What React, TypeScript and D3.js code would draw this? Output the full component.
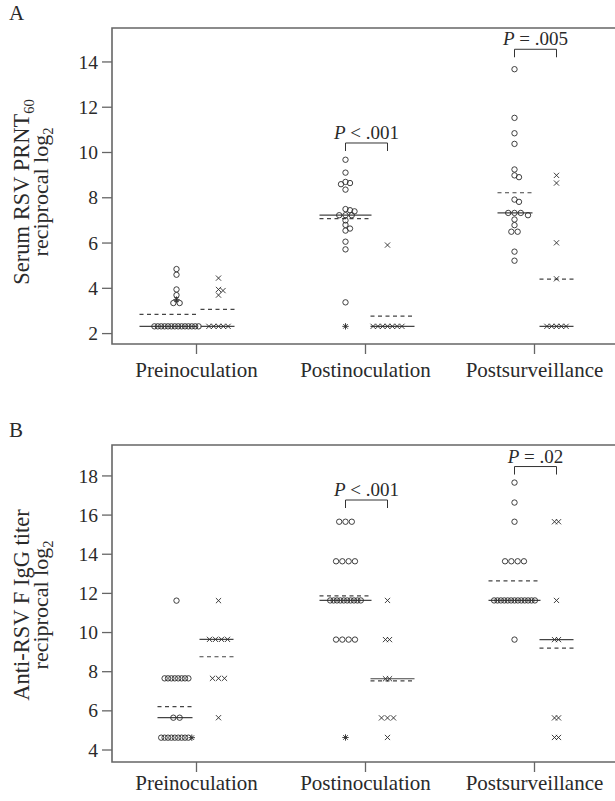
import React from "react";
import * as d3 from "d3";

const categories = ["Preinoculation", "Postinoculation", "Postsurveillance"];

// Panel A: serum RSV PRNT60, reciprocal log2 (circles / crosses / asterisks per time point)
const prntCircles = [
  [4.85, 4.6, 3.95, 3.7, 3.35, 3.35, 2.32, 2.32, 2.32, 2.32, 2.32, 2.32, 2.32, 2.32, 2.32, 2.32, 2.32, 2.32, 2.32, 2.32],
  [9.68, 9.11, 8.7, 8.65, 8.6, 8.36, 7.5, 7.45, 7.4, 7.23, 7.23, 7.23, 7.0, 6.8, 6.64, 6.55, 6.06, 5.72, 3.38],
  [13.68, 11.53, 10.85, 10.38, 9.25, 8.99, 8.91, 7.92, 7.82, 7.33, 7.33, 7.33, 7.23, 7.04, 6.79, 6.5, 6.5, 5.62, 5.22],
];
const prntStars = [[3.5], [2.32], []];
const prntCrosses = [
  [4.45, 3.95, 3.9, 3.7, 2.32, 2.32, 2.32, 2.32, 2.32],
  [5.91, 2.32, 2.32, 2.32, 2.32, 2.32, 2.32, 2.32],
  [8.99, 8.65, 6.01, 4.42, 2.32, 2.32, 2.32, 2.32, 2.32],
];
const prntTicks = [2, 4, 6, 8, 10, 12, 14];
const prntP = ["", "< .001", "= .005"];
const prntBracket = [NaN, 10.42, 14.56];

// Panel B: anti-RSV F IgG titer, reciprocal log2
const iggCircles = [
  [11.63, 7.66, 7.66, 7.66, 7.66, 7.66, 7.66, 7.66, 7.66, 5.65, 5.65, 4.63, 4.63, 4.63, 4.63, 4.63, 4.63, 4.63, 4.63, 4.63],
  [15.66, 15.66, 15.66, 13.64, 13.64, 13.64, 13.64, 11.64, 11.64, 11.64, 11.64, 11.64, 11.64, 11.64, 11.64, 11.64, 11.64, 9.64, 9.64, 9.64, 9.64],
  [17.66, 16.64, 15.66, 13.64, 13.64, 13.64, 13.64, 11.64, 11.64, 11.64, 11.64, 11.64, 11.64, 11.64, 11.64, 11.64, 11.64, 11.64, 11.64, 11.64, 9.64],
];
const iggStars = [[4.63], [4.64], []];
const iggCrosses = [
  [11.63, 9.65, 9.65, 9.65, 9.65, 7.66, 7.66, 7.66, 5.65],
  [11.64, 9.64, 9.64, 7.64, 7.64, 5.64, 5.64, 5.64, 4.64],
  [15.66, 15.66, 11.64, 9.64, 9.64, 5.64, 5.64, 4.64, 4.64],
];
const iggTicks = [4, 6, 8, 10, 12, 14, 16, 18];
const iggP = ["", "< .001", "= .02"];
const iggBracket = [NaN, 16.77, 18.48];

// median / mean line extents (px, relative to column centre): [circles, crosses] per category
const extA = [[[-37, 21], [-18, 16]], [[-26, 26], [-17, 27]], [[-17, 18], [-17, 17]]];
const extB = [[[-19, 16], [-19, 15]], [[-26, 26], [-17, 27]], [[-26, 26], [-17, 17]]];

const FONT = "'Liberation Serif', 'DejaVu Serif', serif";
const INK = "#2a2a2a";
const AXIS = "#666";

type Kind = "o" | "x" | "*";
type Pt = { v: number; kind: Kind; dx: number; py: number };

const rowStep = (kind: Kind, n: number) =>
  kind === "x" ? (n === 2 ? 4 : n <= 4 ? 6 : 4.8) : n <= 4 ? 6.3 : 3.4;

// rows for tied values, then a small beeswarm for the rest
function swarm(vals: { v: number; kind: Kind }[], y: (v: number) => number): Pt[] {
  const out: Pt[] = [];
  const groups = d3.groups(vals, (d) => d.v);
  for (const [v, g] of groups) {
    if (g.length < 2) continue;
    const sorted = [...g].sort((a, b) => (a.kind === "*" ? 1 : 0) - (b.kind === "*" ? 1 : 0));
    const st = rowStep(sorted[0].kind, g.length);
    sorted.forEach((p, i) => out.push({ ...p, dx: (i - (g.length - 1) / 2) * st, py: y(v) }));
  }
  const singles = groups.filter(([, g]) => g.length === 1).map(([, g]) => g[0]).sort((a, b) => b.v - a.v);
  const s = 4.5, D = 4.5;
  for (const p of singles) {
    const py = y(p.v);
    for (let k = 0; k < 60; k++) {
      const dx = k === 0 ? 0 : (k % 2 ? 1 : -1) * Math.ceil(k / 2) * s;
      if (out.every((q) => (q.dx - dx) ** 2 + (q.py - py) ** 2 >= D * D - 0.05)) {
        out.push({ ...p, dx, py });
        break;
      }
    }
  }
  return out;
}

const Mark = ({ p, cx }: { p: Pt; cx: number }) => {
  const x = cx + p.dx, y = p.py;
  if (p.kind === "o") return <circle cx={x} cy={y} r={2.7} fill="none" stroke={INK} strokeWidth={0.9} />;
  const h = 2.6;
  if (p.kind === "x")
    return <path d={`M${x - h},${y - h}L${x + h},${y + h}M${x - h},${y + h}L${x + h},${y - h}`} stroke={INK} strokeWidth={0.9} />;
  const a = 3.2, b = 2.3;
  return (
    <path
      d={`M${x},${y - a}L${x},${y + a}M${x - a},${y}L${x + a},${y}M${x - b},${y - b}L${x + b},${y + b}M${x - b},${y + b}L${x + b},${y - b}`}
      stroke={INK}
      strokeWidth={0.9}
    />
  );
};

type PanelProps = {
  letter: string;
  top: number;
  bottom: number;
  domain: [number, number];
  ticks: number[];
  circles: number[][];
  stars: number[][];
  crosses: number[][];
  pText: string[];
  pLevel: number[];
  ext: number[][][];
  title: string;
  sub: string | null;
  titleY: number;
  labelY: number;
};

const x = d3.scaleBand<string>().domain(categories).range([112, 619]);
const LEFT = 112;

function Panel(props: PanelProps) {
  const { letter, top, bottom, domain, ticks, circles, stars, crosses, pText, pLevel, ext, title, sub, titleY, labelY } = props;
  const y = d3.scaleLinear().domain(domain).range([bottom, top]);
  return (
    <g fontFamily={FONT} fill={INK}>
      <text x={9} y={top - 8} fontSize={21}>{letter}</text>
      {/* y title */}
      <text transform={`translate(29,${titleY}) rotate(-90)`} textAnchor="middle" fontSize={22.5}>
        {title}
        {sub ? <tspan fontSize={14.5} dy={5}>{sub}</tspan> : null}
      </text>
      <text transform={`translate(48,${titleY}) rotate(-90)`} textAnchor="middle" fontSize={22}>
        reciprocal log<tspan fontSize={14.5} dy={5}>2</tspan>
      </text>
      {/* frame */}
      <path d={`M615,${top}H${LEFT}V${bottom}H615`} fill="none" stroke={AXIS} strokeWidth={1.6} />
      {ticks.map((t) => (
        <g key={t}>
          <line x1={LEFT - 10} x2={LEFT} y1={y(t)} y2={y(t)} stroke={AXIS} strokeWidth={1.3} />
          <text x={LEFT - 14} y={y(t)} dy="0.34em" textAnchor="end" fontSize={19.5}>{t}</text>
        </g>
      ))}
      {categories.map((c, i) => {
        const cc = (x(c) as number) + x.bandwidth() / 2;
        const cols = [
          { cx: cc - 20, vals: [...circles[i].map((v) => ({ v, kind: "o" as Kind })), ...stars[i].map((v) => ({ v, kind: "*" as Kind }))] },
          { cx: cc + 22, vals: crosses[i].map((v) => ({ v, kind: "x" as Kind })) },
        ];
        return (
          <g key={c}>
            <line x1={cc} x2={cc} y1={bottom} y2={bottom + 10} stroke={AXIS} strokeWidth={1.3} />
            <text x={cc} y={labelY} textAnchor="middle" fontSize={21}>{c}</text>
            {cols.map((col, j) => {
              const vs = col.vals.map((d) => d.v);
              const med = d3.median(vs) as number;
              const mean = d3.mean(vs) as number;
              const [l, r] = ext[i][j];
              return (
                <g key={j}>
                  <line x1={col.cx + l} x2={col.cx + r} y1={y(med)} y2={y(med)} stroke="#444" strokeWidth={1.2} />
                  <line x1={col.cx + l} x2={col.cx + r} y1={y(mean)} y2={y(mean)} stroke="#444" strokeWidth={1.2} strokeDasharray="4,3.5" />
                  {swarm(col.vals, y).map((p, k) => (
                    <Mark key={k} p={p} cx={col.cx} />
                  ))}
                </g>
              );
            })}
            {pText[i] ? (
              <g>
                <path
                  d={`M${cc - 20},${y(pLevel[i]) + 8}V${y(pLevel[i])}H${cc + 22}V${y(pLevel[i]) + 8}`}
                  fill="none"
                  stroke="#333"
                  strokeWidth={1}
                />
                <text x={cc + 1} y={y(pLevel[i]) - 4} textAnchor="middle" fontSize={19}>
                  <tspan fontStyle="italic">P</tspan>
                  {" " + pText[i]}
                </text>
              </g>
            ) : null}
          </g>
        );
      })}
    </g>
  );
}

export default function App() {
  return (
    <svg width={615} height={801} style={{ position: "absolute", left: 0, top: 0, background: "#fff" }}>
      <rect width={615} height={801} fill="#fff" />
      <Panel
        letter="A"
        top={28}
        bottom={344}
        domain={[1.54, 15.5]}
        ticks={prntTicks}
        circles={prntCircles}
        stars={prntStars}
        crosses={prntCrosses}
        pText={prntP}
        pLevel={prntBracket}
        ext={extA}
        title="Serum RSV PRNT"
        sub="60"
        titleY={192}
        labelY={377}
      />
      <Panel
        letter="B"
        top={445}
        bottom={762}
        domain={[3.387, 19.58]}
        ticks={iggTicks}
        circles={iggCircles}
        stars={iggStars}
        crosses={iggCrosses}
        pText={iggP}
        pLevel={iggBracket}
        ext={extB}
        title="Anti-RSV F IgG titer"
        sub={null}
        titleY={605}
        labelY={790}
      />
    </svg>
  );
}
